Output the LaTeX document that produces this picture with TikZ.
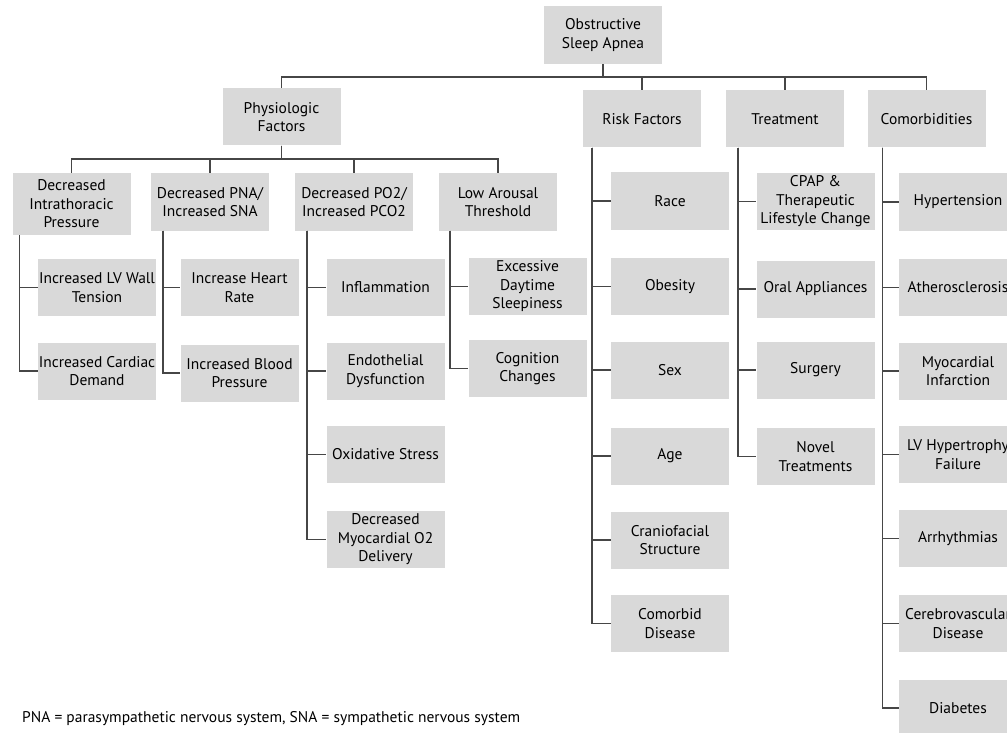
\documentclass[tikz,border=0pt]{standalone}
\usepackage{fontspec}
\setmainfont{PT Sans}
\usepackage{xcolor}
\usepackage{tikz}
\usetikzlibrary{positioning,calc}

\definecolor{boxgray}{RGB}{217,217,217}
\definecolor{linegray}{RGB}{70,70,70}

\begin{document}
\begin{tikzpicture}[
    x=1pt, y=-1pt,
    box/.style={rectangle, fill=boxgray, align=center, inner sep=0pt, minimum width=118pt, minimum height=57pt, font=\fontsize{15.5}{18.5}\selectfont},
    link/.style={draw=linegray, line width=1.6pt}
]
    \useasboundingbox (0,0) rectangle (1007,733);
    \clip (0,0) rectangle (1007,733);

    % root and first level
    \node [box, minimum height=58pt] (osa) at (603,35) {Obstructive\\Sleep Apnea};
    \node [box] (phys) at (281.5,117) {Physiologic\\Factors};
    \node [box] (risk) at (642,119) {Risk Factors};
    \node [box] (treat) at (785,119) {Treatment};
    \node [box] (comor) at (926.5,119) {Comorbidities};

    % physiologic factors
    \node [box, minimum height=62pt] (intra) at (71.5,204) {Decreased\\Intrathoracic\\Pressure};
    \node [box] (pna) at (210,202) {Decreased PNA/\\Increased SNA};
    \node [box] (po2) at (354,202) {Decreased PO2/\\Increased PCO2};
    \node [box] (arousal) at (498,202) {Low Arousal\\Threshold};

    \node [box] (lvwall) at (97,287.5) {Increased LV Wall\\Tension};
    \node [box] (cardiac) at (97,371) {Increased Cardiac\\Demand};
    \node [box] (hrate) at (239.5,287.5) {Increase Heart\\Rate};
    \node [box] (bp) at (239.5,373) {Increased Blood\\Pressure};
    \node [box] (inflam) at (385.5,287.5) {Inflammation};
    \node [box] (endo) at (385.5,371) {Endothelial\\Dysfunction};
    \node [box] (oxid) at (385.5,454.5) {Oxidative Stress};
    \node [box] (myo2) at (385.5,539.5) {Decreased\\Myocardial O2\\Delivery};
    \node [box] (eds) at (527.5,286.5) {Excessive\\Daytime\\Sleepiness};
    \node [box] (cogn) at (527.5,368.5) {Cognition\\Changes};

    % risk factors
    \node [box] (race) at (670,201) {Race};
    \node [box] (obes) at (670,286.5) {Obesity};
    \node [box] (sex) at (670,370) {Sex};
    \node [box] (age) at (670,456) {Age};
    \node [box] (cranio) at (670,540) {Craniofacial\\Structure};
    \node [box] (comorbid) at (670,623.5) {Comorbid\\Disease};

    % treatment
    \node [box] (cpap) at (815.5,201.5) {CPAP \&\\Therapeutic\\Lifestyle Change};
    \node [box] (oral) at (815.5,289) {Oral Appliances};
    \node [box] (surg) at (815.5,370) {Surgery};
    \node [box] (novel) at (815.5,456.5) {Novel\\Treatments};

    % comorbidities
    \node [box] (htn) at (958,202) {Hypertension};
    \node [box] (ath) at (958,287.5) {Atherosclerosis};
    \node [box] (mi) at (958,371) {Myocardial\\Infarction};
    \node [box] (lvh) at (958,454.5) {LV Hypertrophy\\Failure};
    \node [box] (arr) at (958,538.5) {Arrhythmias};
    \node [box] (cvd) at (958,623.5) {Cerebrovascular\\Disease};
    \node [box] (diab) at (958,708) {Diabetes};

    \node [anchor=base west, inner sep=0pt, font=\fontsize{15.5}{18}\selectfont] (note) at (22,722) {PNA = parasympathetic nervous system, SNA = sympathetic nervous system};

    % connectors
    \coordinate (bus1) at (603,77);
    \coordinate (bus2) at (281.5,159);
    \foreach \n in {phys,risk,treat,comor}
        \draw [link] (osa.south) |- (bus1 -| \n.north) -- (\n.north);
    \foreach \n in {intra,pna,po2,arousal}
        \draw [link] (phys.south) |- (bus2 -| \n.north) -- (\n.north);

    \foreach \c in {lvwall,cardiac}
        \draw [link] ([xshift=7pt]intra.south west) |- (\c.west);
    \foreach \c in {hrate,bp}
        \draw [link] ([xshift=12pt]pna.south west) |- (\c.west);
    \foreach \c in {inflam,endo,oxid,myo2}
        \draw [link] ([xshift=12pt]po2.south west) |- (\c.west);
    \foreach \c in {eds,cogn}
        \draw [link] ([xshift=11pt]arousal.south west) |- (\c.west);
    \foreach \c in {race,obes,sex,age,cranio,comorbid}
        \draw [link] ([xshift=9pt]risk.south west) |- (\c.west);
    \foreach \c in {cpap,oral,surg,novel}
        \draw [link] ([xshift=12pt]treat.south west) |- (\c.west);
    \foreach \c in {htn,ath,mi,lvh,arr,cvd,diab}
        \draw [link] ([xshift=15pt]comor.south west) |- (\c.west);
\end{tikzpicture}
\end{document}
